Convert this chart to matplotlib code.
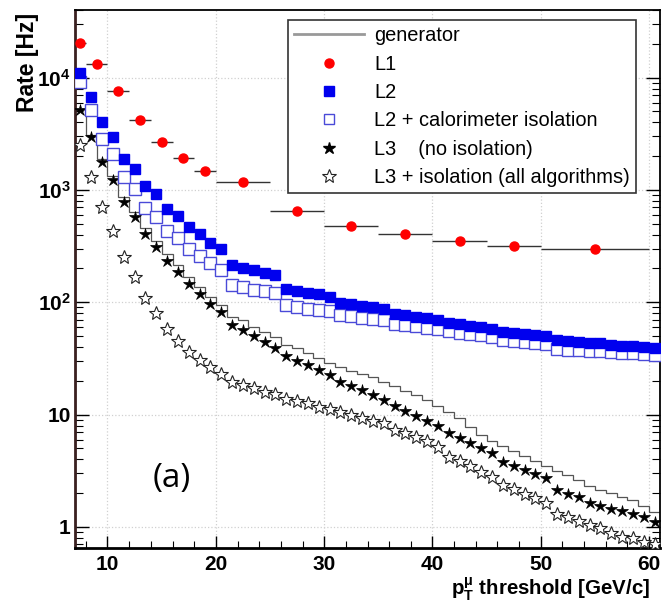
import numpy as np
import matplotlib
matplotlib.use("Agg")
import matplotlib.pyplot as plt
from matplotlib.lines import Line2D
from matplotlib.ticker import FixedLocator, FixedFormatter, NullFormatter, MultipleLocator

plt.rcParams['font.family'] = ['Liberation Sans', 'DejaVu Sans']
plt.rcParams['mathtext.fontset'] = 'custom'
plt.rcParams['mathtext.rm'] = 'Liberation Sans:bold'
plt.rcParams['mathtext.bf'] = 'Liberation Sans:bold'
plt.rcParams['mathtext.it'] = 'Liberation Sans:bold:italic'

# ---- data ----
bin_edges = np.arange(7, 62, 1)          # 1 GeV/c threshold bins, 7..61
l1_edges = [7, 8, 10, 12, 14, 16, 18, 20, 25, 30, 35, 40, 45, 50, 60]
l1_rate = [20200, 13240, 7660, 4210, 2660, 1930, 1490, 1166, 644, 474, 402, 351, 319, 298]

gen_rate = [5300, 3110, 1905, 1320, 858, 631, 455, 348, 267, 213, 167, 136, 111, 94,
            73.6, 69.2, 59.9, 54.1, 48.8, 41.5, 39, 35.2, 31.8, 28.7,
            26.4, 24.4, 22.9, 21.5, 19.4, 17.9, 16.2, 14.9, 13.5, 11.9,
            10.5, 9.3, 7.74, 6.57, 5.81, 5.25, 4.74, 4.28, 3.86, 3.48,
            3.15, 2.90, 2.62, 2.31, 2.13, 2.0, 1.85, 1.74, 1.54, 1.36]
l2_rate = [11100, 6780, 4010, 2950, 1890, 1540, 1080, 912, 671, 590, 467, 408, 337, 300,
           216, 202, 192, 184, 174, 131, 126, 122, 118, 111,
           99, 96, 93, 90, 87, 79, 77, 74, 72.5, 70,
           66, 64, 61.6, 60.3, 58.3, 54.4, 53.3, 52.7, 51.6, 50.2,
           45.9, 45, 44.4, 43.5, 43, 41.5, 41, 40.5, 40, 39.5]
l2_calo_rate = [9080, 5160, 2870, 2100, 1300, 1025, 685, 573, 427, 373, 300, 259, 222, 195,
                141.5, 136, 130, 125, 120, 94, 91, 88, 86, 83,
                76.6, 75, 73, 71.7, 69.2, 63.7, 62.5, 61.2, 59.6, 58.4,
                55.6, 53.3, 52.7, 50.9, 49.2, 46.6, 45.3, 44.4, 43.5, 42.4,
                38.7, 38, 37.4, 37, 36.7, 35.9, 35.5, 35.1, 34.7, 34.3]
l3_rate = [5160, 2990, 1760, 1227, 785, 569, 408, 311, 235, 186, 146, 119, 96, 82,
           62.4, 56.4, 49.8, 44.4, 39.6, 33.1, 29.9, 27.5, 24.9, 22.7,
           19.6, 17.9, 16.5, 14.9, 13.5, 11.9, 10.7, 9.76, 8.76, 7.9,
           6.8, 6.14, 5.55, 5.0, 4.52, 3.81, 3.48, 3.21, 2.96, 2.74,
           2.15, 1.98, 1.84, 1.63, 1.55, 1.45, 1.40, 1.31, 1.23, 1.11]
l3_iso_rate = [2490, 1300, 703, 434, 253, 167, 110, 79.8, 58.4, 44.8, 36.2, 30.5, 26.6, 23.2,
               19.6, 18.3, 17.1, 15.9, 15.2, 13.9, 13.3, 12.6, 11.7, 11.2,
               10.6, 9.9, 9.37, 8.8, 8.35, 7.28, 6.8, 6.35, 5.85, 5.17,
               4.22, 3.88, 3.5, 3.1, 2.8, 2.36, 2.16, 1.97, 1.80, 1.62,
               1.31, 1.22, 1.14, 1.04, 0.97, 0.88, 0.82, 0.79, 0.74, 0.70]

labels = ["generator", "L1", "L2", "L2 + calorimeter isolation",
          "L3    (no isolation)", "L3 + isolation (all algorithms)"]
y_ticks = [1, 10, 100, 1000, 10000]
y_ticklabels = ["1", "10", r"$10^{2}$", r"$10^{3}$", r"$10^{4}$"]
x_ticks = [10, 20, 30, 40, 50, 60]

centers = 0.5 * (bin_edges[:-1] + bin_edges[1:])
l1_e = np.array(l1_edges, dtype=float)
l1_x = 0.5 * (l1_e[:-1] + l1_e[1:])
l1_xerr = [l1_x - l1_e[:-1], l1_e[1:] - l1_x]

# ---- figure ----
fig = plt.figure(figsize=(6.7, 6.03), dpi=100)
ax = fig.add_axes([75 / 670, 1 - 548 / 603, 585 / 670, 538 / 603])
ax.set_yscale('log')
ax.set_xlim(7, 61)
ax.set_ylim(0.65, 40000)

ax.grid(True, which='major', color='#d0d0d0', linestyle=':', linewidth=0.9)
ax.set_axisbelow(True)

ax.stairs(gen_rate, bin_edges, color='#555555', linewidth=0.9, zorder=2)

ax.plot(centers, l3_iso_rate, linestyle='none', marker='*', ms=10, mfc='white',
        mec='#222222', mew=0.8, zorder=3)
ax.plot(centers, l3_rate, linestyle='none', marker='*', ms=9, mfc='black',
        mec='black', mew=0.5, zorder=4)
ax.plot(centers, l2_calo_rate, linestyle='none', marker='s', ms=8, mfc='white',
        mec='#4a4ad8', mew=1.0, zorder=5)
ax.plot(centers, l2_rate, linestyle='none', marker='s', ms=7.5, mfc='#0000ee',
        mec='#0000ee', zorder=6)
ax.errorbar(l1_x, l1_rate, xerr=l1_xerr, fmt='o', ms=6.5, mfc='#ff0000', mec='#ff0000',
            ecolor='#333333', elinewidth=1.0, capsize=0, zorder=7)

# ticks
ax.yaxis.set_major_locator(FixedLocator(y_ticks))
ax.yaxis.set_major_formatter(FixedFormatter(y_ticklabels))
minor_y = [m * 10.0 ** e for e in range(-1, 5) for m in range(2, 10)]
ax.yaxis.set_minor_locator(FixedLocator(minor_y))
ax.yaxis.set_minor_formatter(NullFormatter())
ax.xaxis.set_major_locator(FixedLocator(x_ticks))
ax.xaxis.set_minor_locator(MultipleLocator(2))
ax.tick_params(axis='both', which='both', direction='in', labelsize=15)
ax.tick_params(axis='y', which='major', length=10, width=1.0, right=True, pad=3)
ax.tick_params(axis='y', which='minor', length=6, width=0.8, right=True)
ax.tick_params(axis='x', which='major', length=9, width=1.0, pad=5)
ax.tick_params(axis='x', which='minor', length=5, width=0.8)
for lab in ax.get_xticklabels() + ax.get_yticklabels():
    lab.set_fontweight('bold')

for s in ['left', 'bottom']:
    ax.spines[s].set_linewidth(2.0)
for s in ['top', 'right']:
    ax.spines[s].set_linewidth(1.3)
ax.spines['left'].set_color('#3a2020')

ax.set_ylabel('Rate [Hz]', loc='top', fontsize=16.5, fontweight='bold')
ax.yaxis.set_label_coords(-0.061, 0.995)
ax.set_xlabel(r'$\mathbf{p_{T}^{\mu}}$ threshold [GeV/c]', loc='right',
              fontsize=14.8, fontweight='bold')
ax.xaxis.set_label_coords(0.983, -0.051)

ax.text(0.166, 0.13, '(a)', transform=ax.transAxes, fontsize=24,
        family=['Open Sans', 'DejaVu Sans'], ha='center', va='center')

handles = [
    Line2D([], [], color='#999999', lw=2),
    Line2D([], [], ls='none', marker='o', ms=6.5, mfc='#ff0000', mec='#ff0000'),
    Line2D([], [], ls='none', marker='s', ms=7, mfc='#0000ee', mec='#0000ee'),
    Line2D([], [], ls='none', marker='s', ms=7.5, mfc='white', mec='#4a4ad8', mew=1.0),
    Line2D([], [], ls='none', marker='*', ms=9, mfc='black', mec='black'),
    Line2D([], [], ls='none', marker='*', ms=10, mfc='white', mec='#222222', mew=0.8),
]
leg = ax.legend(handles, labels, loc='upper right', bbox_to_anchor=(0.959, 0.981),
                fontsize=14.4, frameon=True, fancybox=False, framealpha=1,
                edgecolor='#333333', handlelength=3.5, handletextpad=0.5,
                labelspacing=0.47, borderpad=0.3, borderaxespad=0)
leg.get_frame().set_linewidth(1.2)
leg.set_zorder(10)

fig.savefig('out.png', dpi=100)
